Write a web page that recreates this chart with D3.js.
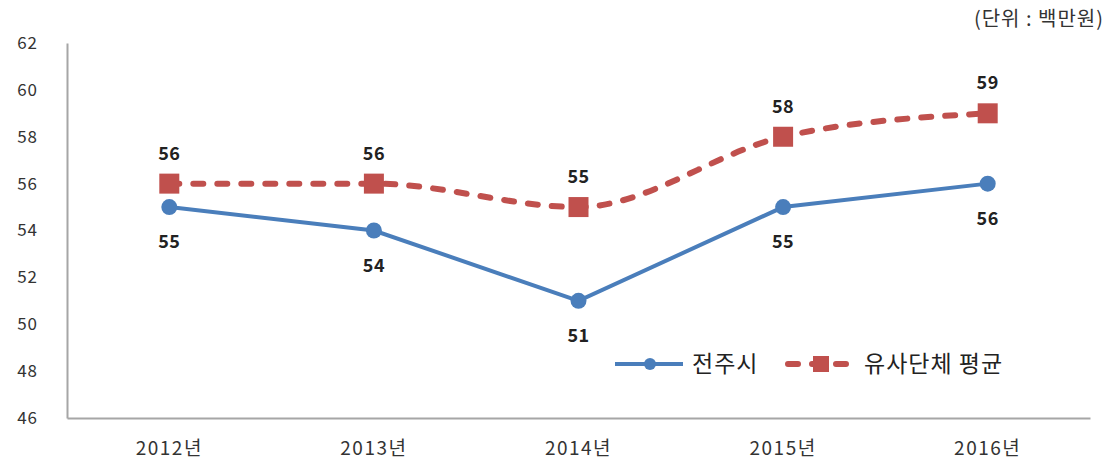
<!DOCTYPE html>
<html><head><meta charset="utf-8">
<script src="https://cdn.jsdelivr.net/npm/d3@7"></script>
<style>body{margin:0;background:#fff;}svg{display:block;}</style>
</head><body>
<svg id="c" width="1119" height="468"></svg>
<script>
const categories = ["2012년","2013년","2014년","2015년","2016년"];
const jeonju = [55,54,51,55,56];
const similarAvg = [56,56,55,58,59];
const yTicks = [46,48,50,52,54,56,58,60,62];
const seriesNames = ["전주시","유사단체 평균"];
const unitLabel = "(단위 : 백만원)";

const svg = d3.select("#c");
const font = "'Noto Sans CJK KR','Noto Sans',sans-serif";
const x = d3.scaleBand().domain(categories).range([67,1090]);
const y = d3.scaleLinear().domain([46,62]).range([418,43]);
const cx = d => x(d) + x.bandwidth()/2;

// axes
const yAxis = svg.append("g").attr("transform","translate(67,0)")
  .call(d3.axisLeft(y).tickValues(yTicks).tickSize(0).tickPadding(29));
yAxis.select(".domain").attr("stroke","#a6a6a6").attr("stroke-width",2);
yAxis.selectAll("text").attr("font-family",font).attr("font-size",17).attr("fill","#333").attr("letter-spacing",1);

const xAxis = svg.append("g").attr("transform","translate(0,418)")
  .call(d3.axisBottom(x).tickSize(0).tickPadding(24));
xAxis.select(".domain").attr("stroke","#a6a6a6").attr("stroke-width",2);
xAxis.selectAll("text").attr("font-family",font).attr("font-size",19).attr("fill","#333").attr("letter-spacing",1.5);

const blue = "#4a7ebb", red = "#c0504d";

// red series
const redData = categories.map((c,i)=>({c,v:similarAvg[i]}));
svg.append("path").datum(redData)
  .attr("d", d3.line().x(d=>cx(d.c)).y(d=>y(d.v)).curve(d3.curveMonotoneX))
  .attr("fill","none").attr("stroke",red).attr("stroke-width",6)
  .attr("stroke-dasharray","10,14").attr("stroke-linecap","round");
svg.selectAll(".sq").data(redData).join("rect")
  .attr("x",d=>cx(d.c)-10).attr("y",d=>y(d.v)-10).attr("width",20).attr("height",20)
  .attr("fill",red);
svg.selectAll(".rl").data(redData).join("text")
  .attr("x",d=>cx(d.c)).attr("y",d=>y(d.v)-24).attr("text-anchor","middle")
  .attr("font-family",font).attr("font-weight","bold").attr("font-size",18).attr("fill","#222")
  .attr("letter-spacing",0.5).text(d=>d.v);

// blue series
const blueData = categories.map((c,i)=>({c,v:jeonju[i]}));
svg.append("path").datum(blueData)
  .attr("d", d3.line().x(d=>cx(d.c)).y(d=>y(d.v)))
  .attr("fill","none").attr("stroke",blue).attr("stroke-width",4);
svg.selectAll(".ci").data(blueData).join("circle")
  .attr("cx",d=>cx(d.c)).attr("cy",d=>y(d.v)).attr("r",8).attr("fill",blue);
svg.selectAll(".bl").data(blueData).join("text")
  .attr("x",d=>cx(d.c)).attr("y",d=>y(d.v)+41).attr("text-anchor","middle")
  .attr("font-family",font).attr("font-weight","bold").attr("font-size",18).attr("fill","#222")
  .attr("letter-spacing",0.5).text(d=>d.v);

// legend
const lg = svg.append("g");
lg.append("line").attr("x1",615).attr("x2",683).attr("y1",364).attr("y2",364)
  .attr("stroke",blue).attr("stroke-width",4);
lg.append("circle").attr("cx",650).attr("cy",364).attr("r",6).attr("fill",blue);
lg.append("text").attr("x",692).attr("y",372).attr("font-family",font).attr("font-size",23).attr("fill","#222")
  .attr("letter-spacing",1).text(seriesNames[0]);
lg.append("line").attr("x1",788).attr("x2",858).attr("y1",364).attr("y2",364)
  .attr("stroke",red).attr("stroke-width",6).attr("stroke-dasharray","10,14").attr("stroke-linecap","round");
lg.append("rect").attr("x",813).attr("y",356).attr("width",16).attr("height",16).attr("fill",red);
lg.append("text").attr("x",864).attr("y",372).attr("font-family",font).attr("font-size",23).attr("fill","#222")
  .attr("letter-spacing",1).text(seriesNames[1]);

// unit
svg.append("text").attr("x",1104).attr("y",26).attr("text-anchor","end")
  .attr("font-family",font).attr("font-size",20).attr("fill","#333").attr("letter-spacing",1).text(unitLabel);
</script>
</body></html>
